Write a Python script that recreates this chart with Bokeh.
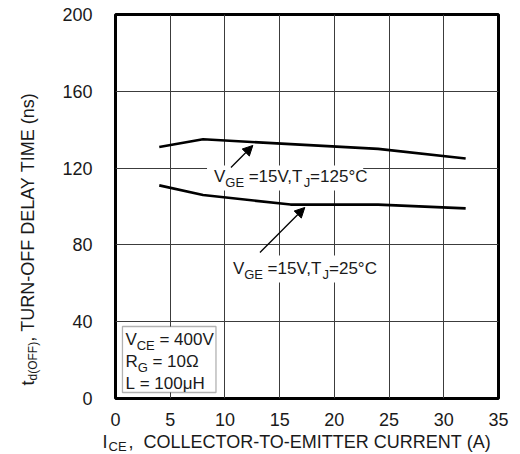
import math

from bokeh.embed import file_html
from bokeh.models import Arrow, BoxAnnotation, FixedTicker, Label, NormalHead
from bokeh.plotting import figure
from bokeh.resources import INLINE

# Turn-off delay time vs collector current
ic_a = [4, 8, 16, 24, 32]
td_125c = [131, 135, 132.5, 130, 125]
td_25c = [111, 106, 101, 101, 99]

x_ticks = [0, 5, 10, 15, 20, 25, 30, 35]
y_ticks = [0, 40, 80, 120, 160, 200]

FONT = "Liberation Sans"
INK = "#1a1a1a"
NB = "\u00a0"

W, H = 520, 454
FL, FR, FT, FB = 113, 498, 14, 398
X_MAX, Y_MAX = 35, 200
BASELINE_SHIFT = -6  # labels sit a little low with an alphabetic baseline

p = figure(
    width=W, height=H,
    x_range=(0, X_MAX), y_range=(0, Y_MAX),
    min_border_left=FL, min_border_right=W - FR,
    min_border_top=FT, min_border_bottom=H - FB,
    output_backend="svg", toolbar_location=None,
)
p.background_fill_color = "white"
p.border_fill_color = "white"
p.outline_line_color = "black"
p.outline_line_width = 3

for ax, ticks in ((p.xaxis, x_ticks), (p.yaxis, y_ticks)):
    ax.ticker = FixedTicker(ticks=ticks)
    ax.major_tick_line_color = None
    ax.minor_tick_line_color = None
    ax.axis_line_color = None
    ax.major_label_text_font = FONT
    ax.major_label_text_font_size = "18px"
    ax.major_label_text_color = INK
p.xaxis.major_label_standoff = 8
p.yaxis.major_label_standoff = 17

p.xgrid.ticker = FixedTicker(ticks=x_ticks[1:-1])
p.ygrid.ticker = FixedTicker(ticks=y_ticks[1:-1])
for g in (p.xgrid, p.ygrid):
    g.grid_line_color = "#3c3c3c"
    g.grid_line_width = 1

p.line(ic_a, td_125c, line_color="black", line_width=2.6)
p.line(ic_a, td_25c, line_color="black", line_width=2.6)

# Arial-compatible advance widths (per 1000 em) for laying out mixed runs
ADV = {
    " ": 278, NB: 278, ",": 278, "-": 333, "(": 333, ")": 333, "=": 584,
    ".": 278, "°": 400, "A": 667, "C": 722, "D": 722, "E": 667, "F": 611,
    "G": 778, "H": 722, "I": 278, "J": 500, "L": 556, "M": 833, "N": 722,
    "O": 778, "R": 722, "T": 611, "U": 722, "V": 667, "Y": 667, "d": 556,
    "n": 556, "s": 500, "t": 278, "μ": 576, "Ω": 768,
}


def text_width(s, size):
    return sum(ADV.get(ch, 556) for ch in s) * size / 1000.0


def to_data(px, py):
    return ((px - FL) / (FR - FL) * X_MAX, (FB - py) / (FB - FT) * Y_MAX)


def rich(px, py, runs, size, sub_size, drop, angle=0.0):
    """Place normal / subscript pieces from a pixel baseline point.

    Each run is (text, is_subscript, side, gap_before); side is None for the
    centre or a side panel name, so that titles outside the frame are not
    clipped to it.
    """
    ax, ay = math.cos(angle), -math.sin(angle)
    dx, dy = math.sin(angle), math.cos(angle)
    for text, sub, side, gap in runs:
        px += ax * gap
        py += ay * gap
        text = text.replace(" ", NB)
        fs = sub_size if sub else size
        off = (drop if sub else 0) + BASELINE_SHIFT
        x, y = to_data(px + dx * off, py + dy * off)
        lbl = Label(
            x=x, y=y, text=text, angle=angle,
            text_font=FONT, text_font_size=f"{fs}px", text_color=INK,
            text_align="left", text_baseline="alphabetic",
        )
        if side is None:
            p.add_layout(lbl)
        else:
            p.add_layout(lbl, side)
        w = text_width(text, fs)
        px += ax * w
        py += ay * w


def runs(*parts, side=None):
    out = []
    for part in parts:
        text, sub = part[0], part[1]
        gap = part[2] if len(part) > 2 else 0
        out.append((text, sub, side, gap))
    return out


def white_box(x0, y0, x1, y1, **kw):
    l, t = to_data(x0, y0)
    r, b = to_data(x1, y1)
    p.add_layout(BoxAnnotation(left=l, right=r, top=t, bottom=b,
                               fill_color="white", fill_alpha=1.0, **kw))


# curve labels with their arrows
white_box(205, 165, 362, 190, line_color=None)
rich(212, 182, runs(("V", False), ("GE", True), (" =15V,T", False), ("J", True), ("=125°C", False)),
     17, 13, 6)
p.add_layout(Arrow(end=NormalHead(size=10, fill_color="black", line_color="black"),
                   x_start=10.55, y_start=120.3, x_end=12.55, y_end=131.8,
                   line_color="black", line_width=1.3))

white_box(228, 255, 372, 282, line_color=None)
rich(231, 274, runs(("V", False), ("GE", True), (" =15V,T", False), ("J", True), ("=25°C", False)),
     17, 13, 6)
p.add_layout(Arrow(end=NormalHead(size=10, fill_color="black", line_color="black"),
                   x_start=13.2, y_start=76, x_end=17.3, y_end=99.5,
                   line_color="black", line_width=1.3))

# test-condition box
white_box(120, 326, 214, 392, line_color="black", line_width=1.3)
rich(123, 345, runs(("V", False), ("CE", True), (" = 400V", False)), 17, 13, 6)
rich(123, 367, runs(("R", False), ("G", True), (" = 10Ω", False)), 17, 13, 6)
rich(123, 389, runs(("L = 100μH", False)), 17, 13, 6)

# axis titles, spread over the side panels so they stay outside the frame clip
rich(100, 447,
     runs(("I", False), side="left")
     + runs(("CE", True, 1), side="right")
     + runs((",  COLLECTOR-TO-EMITTER CURRENT (A)", False, 2), side="below"),
     18, 13, 5)
rich(31, 385,
     runs(("t", False), ("d(OFF)", True), (", TURN-OFF DELAY TIME (ns)", False), side="left"),
     18, 12, 5, angle=math.pi / 2)

open("out.html", "w").write(file_html(p, INLINE))
